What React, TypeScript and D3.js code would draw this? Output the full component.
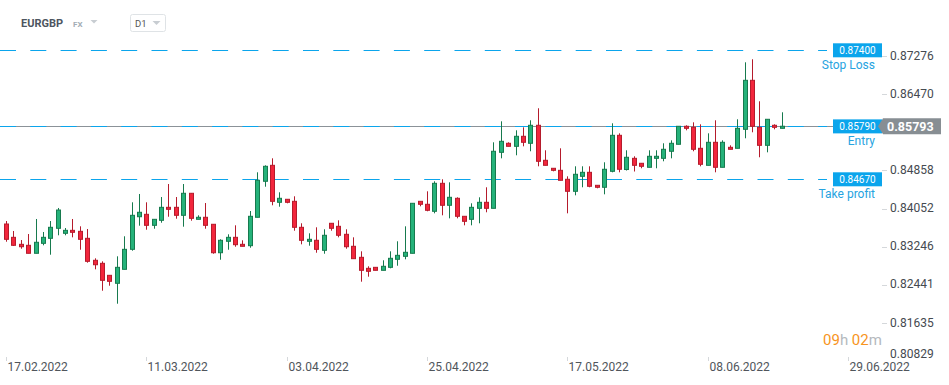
import React from 'react';
import * as d3 from 'd3';

// EURGBP daily candles, 17.02.2022 onwards
const opens = [
  0.83724, 0.83442, 0.83294, 0.83273, 0.83104, 0.83315, 0.83421, 0.83633, 0.83527, 0.83590,
  0.83569, 0.83421, 0.82956, 0.82892, 0.82638, 0.82469, 0.82765, 0.83188, 0.83878, 0.83929,
  0.83696, 0.83802, 0.84077, 0.84077, 0.83908, 0.84374, 0.83823, 0.83866, 0.83718, 0.83116,
  0.83358, 0.83442, 0.83294, 0.83265, 0.83866, 0.84628, 0.84966, 0.84183, 0.84247, 0.84204,
  0.83654, 0.83358, 0.83379, 0.83167, 0.83739, 0.83675, 0.83506, 0.83252, 0.83019, 0.82786,
  0.82807, 0.82744, 0.82807, 0.82977, 0.83040, 0.83104, 0.84204, 0.84141, 0.83993, 0.84585,
  0.84120, 0.84268, 0.83887, 0.83823, 0.84056, 0.84183, 0.84056, 0.85241, 0.85432, 0.85368,
  0.85580, 0.85432, 0.85813, 0.85072, 0.84903, 0.84860, 0.84670, 0.84416, 0.84733, 0.84818,
  0.84543, 0.84501, 0.84839, 0.85601, 0.84877, 0.85114, 0.85009, 0.84924, 0.85114, 0.85114,
  0.85263, 0.85411, 0.85792, 0.85770, 0.85326, 0.84966, 0.85453, 0.84924, 0.85347, 0.85326,
  0.85728, 0.86765, 0.85770, 0.85389, 0.85813, 0.85749,
];
const highs = [
  0.83787, 0.83576, 0.83385, 0.83512, 0.83830, 0.83555, 0.83787, 0.84063, 0.83639, 0.83830,
  0.83675, 0.83618, 0.82998, 0.82934, 0.82638, 0.83040, 0.83464, 0.84183, 0.84359, 0.84183,
  0.83823, 0.84295, 0.84570, 0.84295, 0.84570, 0.84374, 0.83908, 0.84168, 0.83718, 0.83400,
  0.83506, 0.83696, 0.83379, 0.83999, 0.84818, 0.84966, 0.85114, 0.84395, 0.84247, 0.84310,
  0.83739, 0.83527, 0.83654, 0.83612, 0.83739, 0.83802, 0.83612, 0.83442, 0.83146, 0.82829,
  0.82807, 0.82956, 0.83146, 0.83358, 0.83675, 0.84162, 0.84204, 0.84416, 0.84628, 0.84670,
  0.84606, 0.84289, 0.83887, 0.84162, 0.84289, 0.84501, 0.85453, 0.85897, 0.85453, 0.85707,
  0.85770, 0.85919, 0.86173, 0.85284, 0.84903, 0.85326, 0.84733, 0.84945, 0.84945, 0.84945,
  0.84543, 0.85030, 0.85855, 0.85643, 0.85284, 0.85157, 0.85009, 0.85284, 0.85284, 0.85432,
  0.85495, 0.85792, 0.85813, 0.85876, 0.85834, 0.85643, 0.85919, 0.85495, 0.85389, 0.85940,
  0.87146, 0.87210, 0.86321, 0.85940, 0.85834, 0.86088,
];
const lows = [
  0.83349, 0.83258, 0.83201, 0.83104, 0.83104, 0.83273, 0.83074, 0.83485, 0.83485, 0.83442,
  0.83180, 0.82905, 0.82765, 0.82312, 0.82418, 0.82037, 0.82765, 0.83159, 0.83688, 0.83603,
  0.83624, 0.83751, 0.83878, 0.83836, 0.83667, 0.83794, 0.83823, 0.83624, 0.83095, 0.82968,
  0.83180, 0.83243, 0.83252, 0.83222, 0.83866, 0.84513, 0.84120, 0.84090, 0.84162, 0.83582,
  0.83294, 0.83265, 0.83116, 0.83095, 0.83582, 0.83442, 0.83201, 0.82990, 0.82503, 0.82609,
  0.82744, 0.82744, 0.82786, 0.82841, 0.82977, 0.83104, 0.84099, 0.83993, 0.83950, 0.83908,
  0.83844, 0.83844, 0.83696, 0.83696, 0.83739, 0.83972, 0.84056, 0.85114, 0.85368, 0.85178,
  0.85368, 0.85263, 0.84945, 0.84966, 0.84839, 0.84649, 0.83950, 0.84331, 0.84501, 0.84501,
  0.84479, 0.84352, 0.84818, 0.84818, 0.84856, 0.84835, 0.84903, 0.84924, 0.84903, 0.85051,
  0.85114, 0.85411, 0.85707, 0.85263, 0.84945, 0.84966, 0.84818, 0.84924, 0.85305, 0.85326,
  0.85538, 0.85665, 0.85136, 0.85241, 0.85728, 0.85749,
];
const closes = [
  0.83400, 0.83273, 0.83243, 0.83104, 0.83337, 0.83442, 0.83654, 0.84020, 0.83590, 0.83548,
  0.83400, 0.82934, 0.82862, 0.82532, 0.82511, 0.82807, 0.83188, 0.83908, 0.83972, 0.83696,
  0.83823, 0.84077, 0.84035, 0.83908, 0.84374, 0.83844, 0.83866, 0.83696, 0.83116, 0.83379,
  0.83442, 0.83286, 0.83252, 0.83887, 0.84649, 0.84945, 0.84204, 0.84268, 0.84183, 0.83654,
  0.83379, 0.83400, 0.83188, 0.83485, 0.83633, 0.83485, 0.83243, 0.82990, 0.82744, 0.82723,
  0.82744, 0.82829, 0.82998, 0.83061, 0.83125, 0.84162, 0.84141, 0.84014, 0.84585, 0.84120,
  0.84289, 0.83887, 0.83781, 0.84077, 0.84183, 0.84056, 0.85263, 0.85474, 0.85368, 0.85580,
  0.85453, 0.85813, 0.85051, 0.84966, 0.84860, 0.84649, 0.84416, 0.84776, 0.84818, 0.84522,
  0.84501, 0.84882, 0.85601, 0.84882, 0.85136, 0.84966, 0.84945, 0.85157, 0.85157, 0.85305,
  0.85432, 0.85792, 0.85749, 0.85305, 0.84987, 0.85453, 0.84924, 0.85453, 0.85305, 0.85749,
  0.86765, 0.85792, 0.85389, 0.85940, 0.85770, 0.85793,
];

const dateLabels = ['17.02.2022', '11.03.2022', '03.04.2022', '25.04.2022', '17.05.2022', '08.06.2022', '29.06.2022'];
const dateIndex = [0, 19, 38, 57, 76, 95, 114];

const priceTicks = [0.87276, 0.8647, 0.85664, 0.84858, 0.84052, 0.83246, 0.82441, 0.81635, 0.80829];

const levels = [
  { name: 'Stop Loss', value: 0.874 },
  { name: 'Entry', value: 0.8579 },
  { name: 'Take profit', value: 0.8467 },
];
const lastPrice = 0.85793;

const W = 949;
const H = 385;
const FONT = 'Roboto, "Noto Sans", sans-serif';

const UP_FILL = '#25b27a';
const UP_LINE = '#177a4e';
const DOWN_FILL = '#f2263c';
const DOWN_LINE = '#b51b2c';
const BLUE = '#0ba5ec';

const App = () => {
  const x = d3.scaleLinear().domain([0, 114]).range([6, 848]);
  const y = d3.scaleLinear().domain([0.8467, 0.874]).range([179.3, 50.3]);

  const candles = opens.map((o, i) => ({ o, h: highs[i], l: lows[i], c: closes[i], i }));
  const lastY = y(lastPrice);

  return (
    <svg width={W} height={H} style={{ position: 'absolute', left: 0, top: 0, background: '#fff' }} fontFamily={FONT}>
      {/* header */}
      <text x={21} y={27} fontSize={11} fontWeight="bold" fill="#4d5560">EURGBP</text>
      <text x={73} y={27} fontSize={8} fontWeight="bold" fill="#a3adb5">FX</text>
      <path d="M90.5,20 L97.5,20 L94,23.5 Z" fill="#c8cdd2" />
      <rect x={130.5} y={14.5} width={35} height={17} rx={2} fill="#fff" stroke="#dfe3e6" />
      <text x={135} y={26.5} fontSize={9.5} fill="#555">D1</text>
      <path d="M152.5,21 L160.5,21 L156.5,25 Z" fill="#c8cdd2" />

      {/* current price line */}
      <line x1={0} x2={882} y1={Math.round(lastY) + 0.5} y2={Math.round(lastY) + 0.5} stroke="#8b9298" />

      {/* order levels */}
      {levels.map(lv => {
        const ly = Math.round(y(lv.value)) + 0.5;
        return (
          <line key={lv.name} x1={0} x2={827} y1={ly} y2={ly} stroke={BLUE} strokeDasharray="16,14.3" />
        );
      })}

      {/* candles */}
      {candles.map(d => {
        const cx = Math.round(x(d.i)) + 0.5;
        const up = d.c >= d.o;
        const top = y(Math.max(d.o, d.c));
        const bot = y(Math.min(d.o, d.c));
        return (
          <g key={d.i}>
            <line x1={cx} x2={cx} y1={y(d.h)} y2={y(d.l)} stroke={up ? UP_LINE : DOWN_LINE} />
            <rect
              x={cx - 2}
              y={top}
              width={4}
              height={Math.max(1.5, bot - top)}
              fill={up ? UP_FILL : DOWN_FILL}
              stroke={up ? UP_LINE : DOWN_LINE}
            />
          </g>
        );
      })}

      {/* level labels */}
      {levels.map(lv => {
        const ly = y(lv.value);
        return (
          <g key={lv.name}>
            <rect x={833} y={ly - 7} width={49} height={14} fill={BLUE} />
            <text x={857.5} y={ly + 3.6} fontSize={10} fill="#fff" textAnchor="middle">{lv.value.toFixed(5)}</text>
            <text x={875} y={ly + 19} fontSize={12} fill="#27a3df" textAnchor="end">{lv.name}</text>
          </g>
        );
      })}

      {/* price axis; a tick hidden under the last price tag gets no label */}
      {priceTicks.map((p, k) => {
        const last = k === priceTicks.length - 1;
        const ty = last ? 354 : y(p);
        const covered = Math.abs(ty - lastY) < 12;
        return (
          <g key={p}>
            {!last && <line x1={882} x2={887} y1={Math.round(ty) + 0.5} y2={Math.round(ty) + 0.5} stroke="#d5d8db" />}
            {!covered && <text x={890} y={ty} dy="0.32em" fontSize={12} fill="#454a50">{p.toFixed(5)}</text>}
          </g>
        );
      })}

      {/* last price tag */}
      <path d={`M878,${lastY} L883,${lastY - 8} H941 V${lastY + 8} H883 Z`} fill="#878e93" />
      <text x={887} y={lastY + 4.5} fontSize={12.5} fontWeight="bold" fill="#fff">{lastPrice.toFixed(5)}</text>

      {/* time axis */}
      {dateLabels.map((lab, k) => {
        const tx = Math.round(x(dateIndex[k])) + 0.5;
        return (
          <g key={lab}>
            <line x1={tx} x2={tx} y1={357} y2={361} stroke="#d5d8db" />
            <text x={tx + 1} y={371} fontSize={12} fill="#50555b">{lab}</text>
          </g>
        );
      })}

      {/* countdown */}
      <text x={823} y={345} fontSize={15}>
        <tspan fill="#f7941d">09</tspan>
        <tspan fill="#b4b9bd">h </tspan>
        <tspan fill="#f7941d">02</tspan>
        <tspan fill="#b4b9bd">m</tspan>
      </text>
    </svg>
  );
};

export default App;
